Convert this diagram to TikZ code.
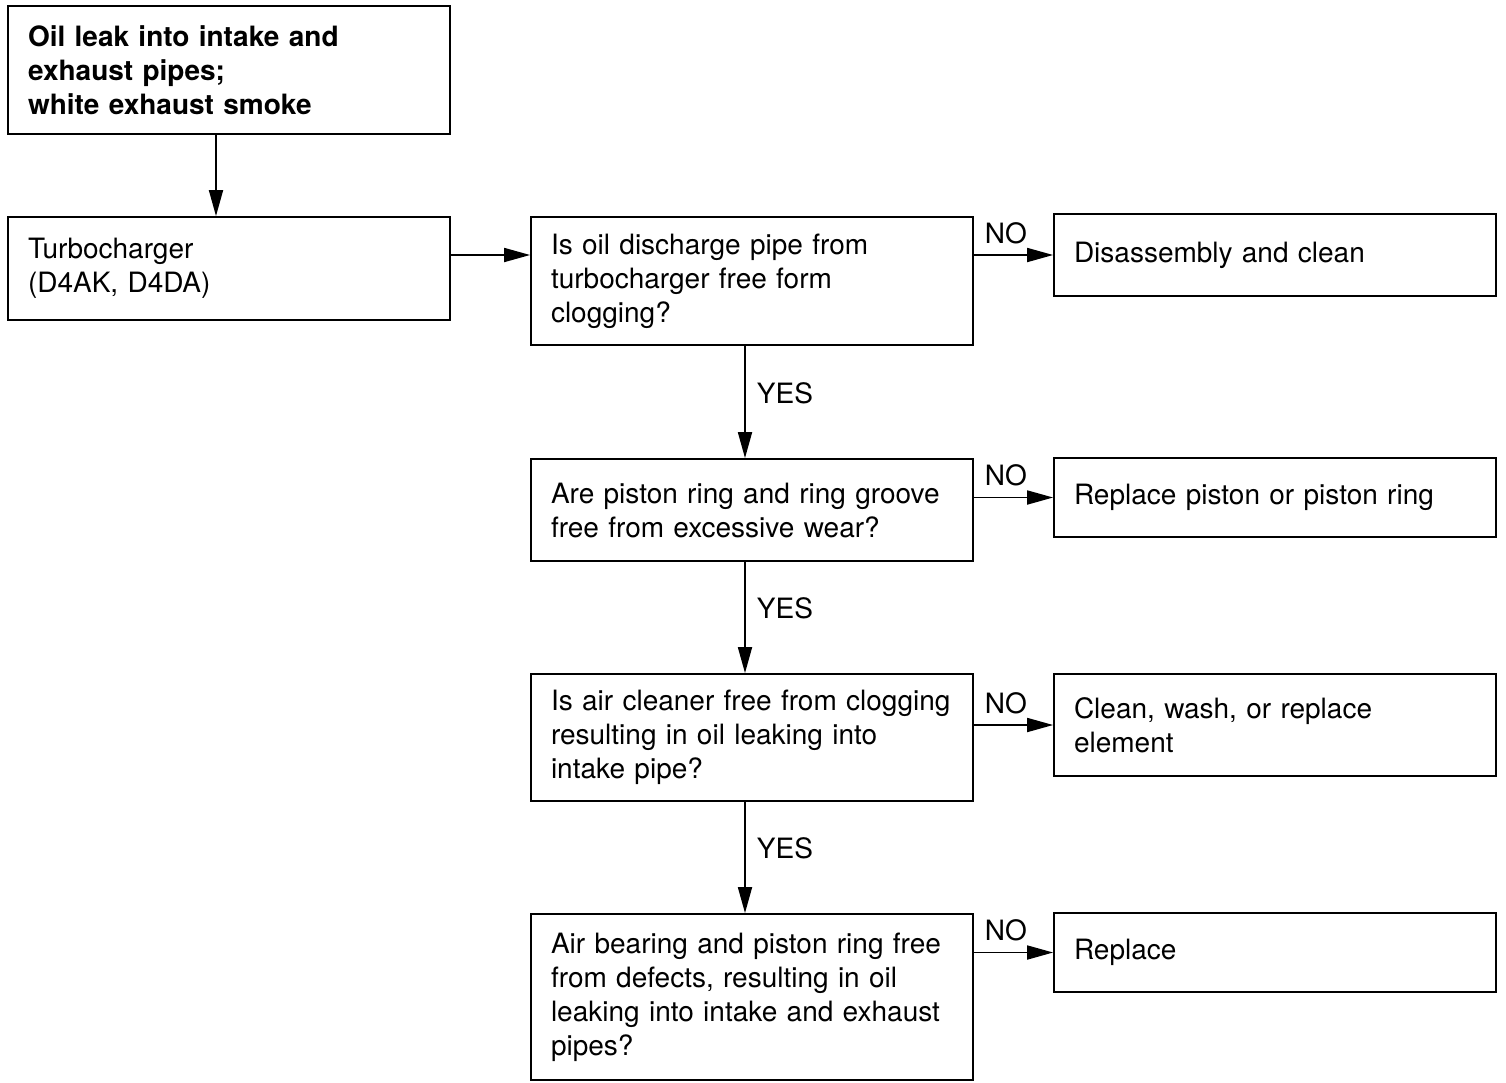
\documentclass[tikz,border=0pt]{standalone}
\usepackage{fontspec}
\setmainfont{TeX Gyre Heros}
\usetikzlibrary{arrows.meta}
\begin{document}
\begin{tikzpicture}[x=1pt,y=-1pt,
  box/.style={draw=black, line width=1.8pt, fill=white, inner xsep=20pt, inner ysep=0pt,
    text width=402pt, minimum width=442pt, align=left,
    font=\fontsize{28}{34}\selectfont},
  arr/.style={line width=1.8pt, -{Triangle[length=26pt,width=14pt]}},
  lbl/.style={inner sep=0pt, font=\fontsize{28}{34}\selectfont}]
\useasboundingbox[fill=white] (0,0) rectangle (1506,1082);

% main column of checks
\node[box, minimum height=128pt] (top) at (229,70)
  {\textbf{Oil leak into intake and}\\\textbf{exhaust pipes;}\\\textbf{white exhaust smoke}};
\node[box, minimum height=103pt] (turbo) at (229,268.5) {Turbocharger\\(D4AK, D4DA)};
\node[box, minimum height=128pt] (q1) at (752,281)
  {Is oil discharge pipe from\\turbocharger free form\\clogging?};
\node[box, minimum height=102pt] (q2) at (752,510)
  {Are piston ring and ring groove\\free from excessive wear?};
\node[box, minimum height=127pt] (q3) at (752,737.5)
  {Is air cleaner free from clogging\\resulting in oil leaking into\\intake pipe?};
\node[box, minimum height=166pt] (q4) at (752,997)
  {Air bearing and piston ring free\\from defects, resulting in oil\\leaking into intake and exhaust\\pipes?};

% remedies
\node[box, minimum height=82pt] (r1) at (1275,255) {Disassembly and clean};
\node[box, minimum height=79pt] (r2) at (1275,497.5) {Replace piston or piston ring};
\node[box, minimum height=102pt] (r3) at (1275,725) {Clean, wash, or replace\\element};
\node[box, minimum height=79pt] (r4) at (1275,952.5) {Replace};

% connectors
\draw[arr] ([xshift=-13pt]top.south) -- ([xshift=-13pt]turbo.north);
\draw[arr] (turbo.east |- r1) -- (q1.west |- r1);

\draw[arr] (q1.east |- r1) -- node[lbl, pos=0, anchor=base west, xshift=10pt, yshift=12pt] {NO} (r1.west);
\draw[arr] (q2.east |- r2) -- node[lbl, pos=0, anchor=base west, xshift=10pt, yshift=12pt] {NO} (r2.west);
\draw[arr] (q3.east |- r3) -- node[lbl, pos=0, anchor=base west, xshift=10pt, yshift=12pt] {NO} (r3.west);
\draw[arr] (q4.east |- r4) -- node[lbl, pos=0, anchor=base west, xshift=10pt, yshift=12pt] {NO} (r4.west);

\draw[arr] ([xshift=-7pt]q1.south) -- node[lbl, pos=0.42, anchor=west, xshift=11pt] {YES} ([xshift=-7pt]q2.north);
\draw[arr] ([xshift=-7pt]q2.south) -- node[lbl, pos=0.42, anchor=west, xshift=11pt] {YES} ([xshift=-7pt]q3.north);
\draw[arr] ([xshift=-7pt]q3.south) -- node[lbl, pos=0.42, anchor=west, xshift=11pt] {YES} ([xshift=-7pt]q4.north);
\end{tikzpicture}
\end{document}
